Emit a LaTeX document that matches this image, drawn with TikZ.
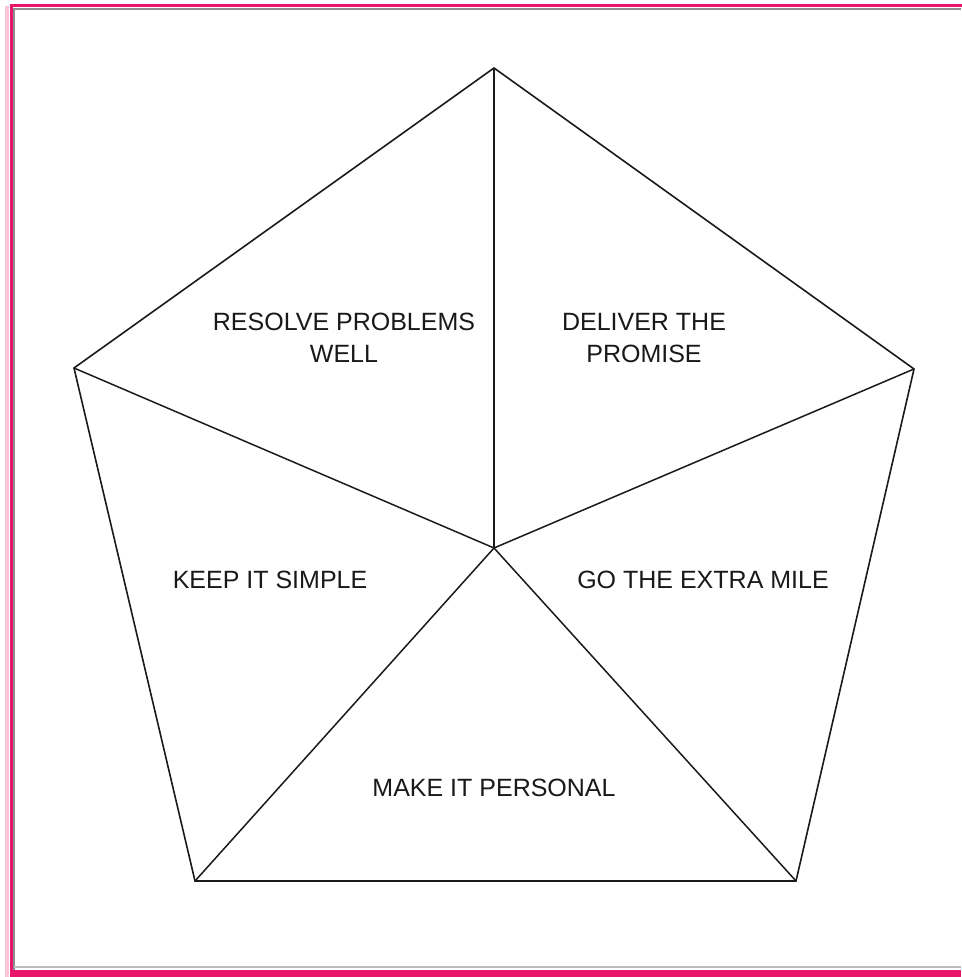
\documentclass[tikz,border=0pt]{standalone}
\usepackage{fontspec}
\setmainfont{Liberation Sans}
\usepackage{tikz}
\usetikzlibrary{positioning}
\definecolor{mframe}{HTML}{E8176B}
\definecolor{mshade}{HTML}{8E8E8E}
\definecolor{mline}{HTML}{1A1A1A}
\tikzset{
  edge/.style={draw=mline, line width=0.8pt, line join=miter},
  spoke/.style={draw=mline, line width=0.75pt},
  lbl/.style={font=\fontsize{12.5}{16}\selectfont, align=center, text=black!90, inner sep=0pt},
}

\begin{document}
\begin{tikzpicture}[x=0.5pt, y=-0.5pt]

  %% Canvas and frame
  \useasboundingbox (0,0) rectangle (961,977);
  \fill[white] (0,0) rectangle (961,977);
  \draw[mframe!25, line width=2pt] (7,6) -- (7,977);
  \draw[mshade, line width=1pt] (14,977) -- (14,9) -- (961,9);
  \draw[mshade!60, line width=1pt] (14,967) -- (961,967);
  \draw[mframe, line width=1.5pt] (11.5,980) -- (11.5,6) -- (965,6);
  \fill[mframe] (10,970) rectangle (961,977);

  %% Pentagon corners
  \coordinate (hub) at (494,548);
  \coordinate (ptop) at (494,68);
  \coordinate (pright) at (914,369);
  \coordinate (pbr) at (796,881);
  \coordinate (pbl) at (195,881);
  \coordinate (pleft) at (74,368);

  %% Outline
  \draw[edge] (ptop) -- (pright) -- (pbr) -- (pbl) -- (pleft) -- cycle;

  %% Spokes
  \draw[spoke] (hub) -- (ptop);
  \draw[spoke] (hub) -- (pright);
  \draw[spoke] (hub) -- (pbr);
  \draw[spoke] (hub) -- (pbl);
  \draw[spoke] (hub) -- (pleft);

  %% Labels
  \node[lbl] (resolve) at (344,338) {RESOLVE PROBLEMS\\WELL};
  \node[lbl] (deliver) at (644,338) {DELIVER THE\\PROMISE};
  \node[lbl] (simple) at (270,580) {KEEP IT SIMPLE};
  \node[lbl] (extra) at (703,580) {GO THE EXTRA MILE};
  \node[lbl] (personal) at (494,788) {MAKE IT PERSONAL};

\end{tikzpicture}
\end{document}
